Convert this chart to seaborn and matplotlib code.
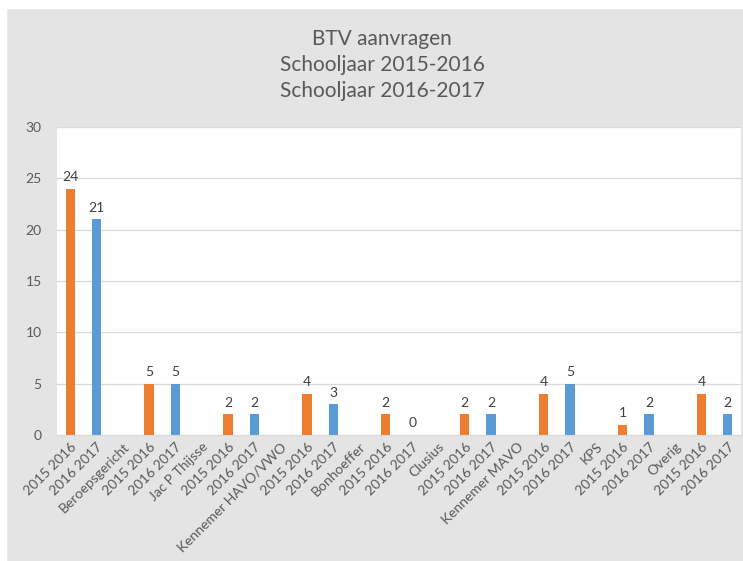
import seaborn as sns
import matplotlib.pyplot as plt
import pandas as pd
from matplotlib.patches import Rectangle

# categories along the x axis (group names sit between the year pairs)
labels = ["2015 2016", "2016 2017", "Beroepsgericht",
          "2015 2016", "2016 2017", "Jac P Thijsse",
          "2015 2016", "2016 2017", "Kennemer HAVO/VWO",
          "2015 2016", "2016 2017", "Bonhoeffer",
          "2015 2016", "2016 2017", "Clusius",
          "2015 2016", "2016 2017", "Kennemer MAVO",
          "2015 2016", "2016 2017", "KPS",
          "2015 2016", "2016 2017", "Overig",
          "2015 2016", "2016 2017"]
values = [24, 21, None,
          5, 5, None,
          2, 2, None,
          4, 3, None,
          2, 0, None,
          2, 2, None,
          4, 5, None,
          1, 2, None,
          4, 2]
series_colors = {"2015 2016": "#ED7D31", "2016 2017": "#5B9BD5"}

keys = [f"c{i}" for i in range(len(labels))]
df = pd.DataFrame({"key": keys, "label": labels, "value": values})
df = df[df["label"].isin(series_colors.keys())]

fig = plt.figure(figsize=(7.43, 5.61), dpi=100)
fig.patch.set_facecolor("#e4e4e4")
# white margin at left and top, like the screenshot crop
fig.add_artist(Rectangle((0, 0), 6 / 743, 1, transform=fig.transFigure, color="white", zorder=0))
fig.add_artist(Rectangle((0, 1 - 8 / 561), 1, 8 / 561, transform=fig.transFigure, color="white", zorder=0))

ax = fig.add_axes([57 / 743, 1 - 435 / 561, (741 - 57) / 743, (435 - 127) / 561])
sns.barplot(data=df, x="key", y="value", hue="label", order=keys,
            palette=series_colors, dodge=False, width=0.35, saturation=1,
            legend=False, ax=ax)

for c in ax.containers:
    ax.bar_label(c, fontsize=10, color="#404040", padding=4, family="Lato")

ax.set_ylim(0, 30)
ax.set_yticks(range(0, 31, 5))
ax.set_xlim(-0.5, len(labels) - 0.5)
ax.set_xticks(range(len(labels)))
ax.set_xticklabels(labels, rotation=45, ha="right", rotation_mode="anchor",
                   fontsize=10, color="#595959", family="Lato")
for t in ax.get_yticklabels():
    t.set_family("Lato")
ax.tick_params(axis="y", length=0, pad=11, labelsize=10, labelcolor="#595959")
ax.tick_params(axis="x", length=0, pad=4)
ax.set_xlabel("")
ax.set_ylabel("")
ax.grid(axis="y", color="#d9d9d9", lw=0.9)
ax.set_axisbelow(True)
for s in ["left", "right", "top"]:
    ax.spines[s].set_visible(False)
ax.spines["bottom"].set_color("#d9d9d9")

# three-line title block centred at roughly y=65
fig.text(382 / 743, 1 - 65 / 561, "BTV aanvragen\nSchooljaar 2015-2016\nSchooljaar 2016-2017",
         ha="center", va="center", fontsize=15, color="#595959", family="Lato",
         linespacing=1.38)

fig.savefig("out.png", dpi=100, facecolor=fig.get_facecolor())
